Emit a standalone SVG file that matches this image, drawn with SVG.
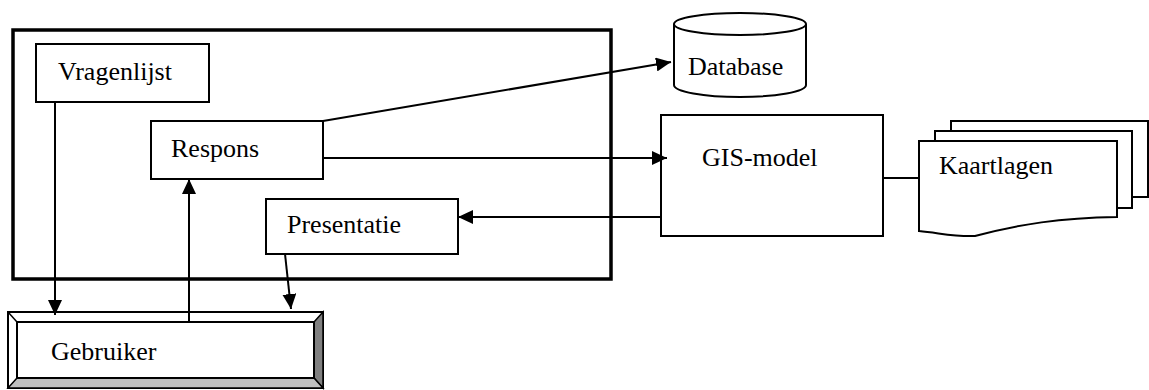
<svg xmlns="http://www.w3.org/2000/svg" width="1149" height="390" viewBox="0 0 1149 390">
<style>
.box{fill:#fff;stroke:#000;stroke-width:2}
text{font-family:'Liberation Serif','Times New Roman',serif;font-size:26px;fill:#000}
.ln{fill:none;stroke:#000;stroke-width:2}
</style>
<defs>
<marker id="ah" viewBox="0 0 15 14" refX="15" refY="7" markerWidth="15" markerHeight="14" markerUnits="userSpaceOnUse" orient="auto">
<path d="M0,0 L15,7 L0,14 Z" fill="#000"/>
</marker>
</defs>
<rect width="1149" height="390" fill="#fff"/>
<g id="frame"><rect x="13" y="30" width="598" height="249" fill="none" stroke="#000" stroke-width="3.5"/></g>
<g id="vragenlijst"><rect class="box" x="36" y="44" width="173" height="58"/><text x="58" y="80">Vragenlijst</text></g>
<g id="respons"><rect class="box" x="151" y="121" width="172" height="58"/><text x="171" y="157">Respons</text></g>
<g id="presentatie"><rect class="box" x="266" y="199" width="192" height="55"/><text x="287" y="233">Presentatie</text></g>
<g id="database">
<path class="box" d="M674,24 L674,85 A66,12 0 0 0 806,85 L806,24"/>
<ellipse class="box" cx="740" cy="24" rx="66" ry="11"/>
<text x="688" y="75">Database</text>
</g>
<g id="gis"><rect class="box" x="661" y="115" width="222" height="121"/><text x="702" y="166">GIS-model</text></g>
<g id="kaartlagen">
<path class="box" d="M951,131 L951,121 L1148,121 L1148,197 L1132,197"/>
<path class="box" d="M935,141 L935,131 L1132,131 L1132,208 L1117,208"/>
<path class="box" d="M919,141 L1117,141 L1117,217 C1060,218 1020,224 975,236 C955,237 940,233 919,231 Z"/>
<text x="939" y="174">Kaartlagen</text>
</g>
<g id="gebruiker">
<rect x="8" y="312" width="315" height="76" fill="#fff" stroke="#000" stroke-width="2"/>
<polygon points="323,312 323,388 314,378 314,322" fill="#808080" stroke="#000" stroke-width="1.5"/>
<polygon points="8,388 323,388 314,378 17,378" fill="#c0c0c0" stroke="#000" stroke-width="1.5"/>
<line x1="8" y1="312" x2="17" y2="322" stroke="#000" stroke-width="1.5"/>
<rect x="17" y="322" width="297" height="56" fill="#fff" stroke="#000" stroke-width="2"/>
<text x="51" y="360">Gebruiker</text>
</g>
<g id="connectors">
<line class="ln" x1="55" y1="102" x2="55" y2="315" marker-end="url(#ah)"/>
<line class="ln" x1="189" y1="322" x2="189" y2="179" marker-end="url(#ah)"/>
<line class="ln" x1="285" y1="254" x2="291" y2="309" marker-end="url(#ah)"/>
<line class="ln" x1="323" y1="121" x2="671" y2="62" marker-end="url(#ah)"/>
<line class="ln" x1="323" y1="158" x2="667" y2="158" marker-end="url(#ah)"/>
<line class="ln" x1="661" y1="217" x2="458" y2="217" marker-end="url(#ah)"/>
<line class="ln" x1="883" y1="178" x2="919" y2="178"/>
</g>
</svg>
